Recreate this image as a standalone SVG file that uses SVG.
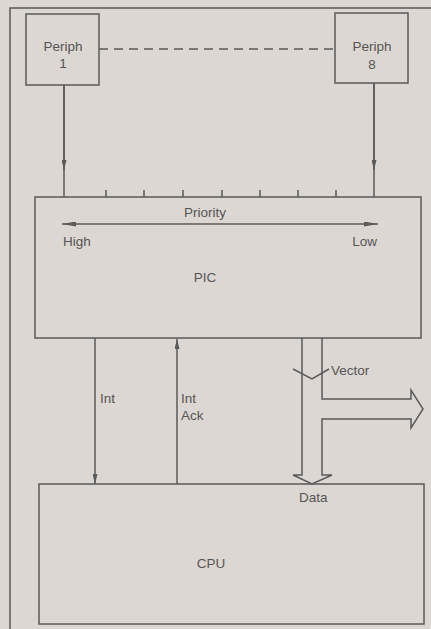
<svg xmlns="http://www.w3.org/2000/svg" width="431" height="629" viewBox="0 0 431 629">
<defs>
<style>
.box{fill:none;stroke:#5a5a5a;stroke-width:1.5}
.ln{fill:none;stroke:#5a5a5a;stroke-width:1.5}
.t{font-family:"Liberation Sans",Arial,sans-serif;font-size:13.5px;fill:#555}
</style>
<marker id="ah" viewBox="0 0 10 5" refX="10" refY="2.5" markerWidth="10" markerHeight="5" orient="auto-start-reverse" markerUnits="userSpaceOnUse">
<path d="M0,0 L10,2.5 L0,5 Z" fill="#5a5a5a"/>
</marker>
<marker id="ah2" viewBox="0 0 14 5" refX="14" refY="2.5" markerWidth="14" markerHeight="5" orient="auto-start-reverse" markerUnits="userSpaceOnUse">
<path d="M0,0 L14,2.5 L0,5 Z" fill="#5a5a5a"/>
</marker>
</defs>
<rect x="0" y="0" width="431" height="629" fill="#dcd7d2"/>
<path class="ln" d="M10,629 L10,8 L431,8"/>
<g id="periph1">
<rect class="box" x="26" y="14" width="73" height="71"/>
<text class="t" x="63" y="51" text-anchor="middle">Periph</text>
<text class="t" x="63" y="68" text-anchor="middle">1</text>
</g>
<g id="periph8">
<rect class="box" x="335" y="13" width="73" height="70"/>
<text class="t" x="372" y="51" text-anchor="middle">Periph</text>
<text class="t" x="372" y="69" text-anchor="middle" font-size="14">8</text>
</g>
<g id="pic">
<rect class="box" x="35" y="197" width="386" height="141"/>
<text class="t" x="205" y="217" text-anchor="middle">Priority</text>
<text class="t" x="63" y="246">High</text>
<text class="t" x="377" y="246" text-anchor="end">Low</text>
<text class="t" x="205" y="282" text-anchor="middle">PIC</text>
</g>
<g id="cpu">
<rect class="box" x="39" y="484" width="385" height="140"/>
<text class="t" x="211" y="568" text-anchor="middle">CPU</text>
</g>
<g id="connectors">
<line class="ln" x1="99" y1="49" x2="335" y2="49" stroke-dasharray="9,6"/>
<line class="ln" x1="64" y1="85" x2="64" y2="197"/>
<line class="ln" x1="374" y1="83" x2="374" y2="197"/>
<line class="ln" x1="64" y1="85" x2="64" y2="170" marker-end="url(#ah)"/>
<line class="ln" x1="374" y1="83" x2="374" y2="170" marker-end="url(#ah)"/>
<path class="ln" d="M106,197 v-7 M144,197 v-7 M183,197 v-7 M222,197 v-7 M260,197 v-7 M298,197 v-7 M336,197 v-7"/>
<line class="ln" x1="62" y1="224" x2="378" y2="224" marker-start="url(#ah2)" marker-end="url(#ah2)"/>
<line class="ln" x1="95" y1="338" x2="95" y2="484" marker-end="url(#ah)"/>
<text class="t" x="100" y="403">Int</text>
<line class="ln" x1="177" y1="484" x2="177" y2="339" marker-end="url(#ah)"/>
<text class="t" x="181" y="403">Int</text>
<text class="t" x="181" y="420">Ack</text>
<path class="ln" d="M302,338 V475 H293 L312,484 L332,475 H322 V419 H411 V428 L423,409 L411,390 V399 H322 V338" stroke-linejoin="miter"/>
<path class="ln" d="M293,369 L312,379 L329,369"/>
<text class="t" x="331" y="375">Vector</text>
<text class="t" x="299" y="502">Data</text>
</g>
</svg>
